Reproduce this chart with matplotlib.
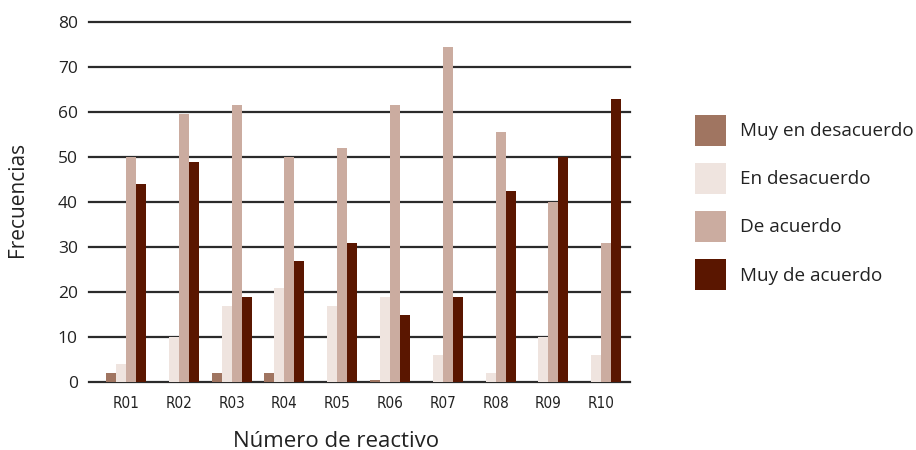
import numpy as np
import matplotlib.pyplot as plt

plt.rcParams['font.family'] = ['Open Sans', 'DejaVu Sans']

reactivos = ['R01', 'R02', 'R03', 'R04', 'R05', 'R06', 'R07', 'R08', 'R09', 'R10']
series = ['Muy en desacuerdo', 'En desacuerdo', 'De acuerdo', 'Muy de acuerdo']
muy_desacuerdo = [2, 0, 2, 2, 0, 0.5, 0, 0, 0, 0]
en_desacuerdo = [4, 10, 17, 21, 17, 19, 6, 2, 10, 6]
de_acuerdo = [50, 59.5, 61.5, 50, 52, 61.5, 74.5, 55.5, 40, 31]
muy_acuerdo = [44, 49, 19, 27, 31, 15, 19, 42.5, 50, 63]
colores = ['#a07561', '#efe4df', '#cbaca0', '#5a1600']

valores = [muy_desacuerdo, en_desacuerdo, de_acuerdo, muy_acuerdo]

fig = plt.figure(figsize=(9.16, 4.5), dpi=100)
ax = fig.add_axes([89 / 916, 1 - 382 / 450, 541 / 916, 360 / 450])

x = np.arange(len(reactivos))
w = 0.19
handles = []
for i, (vals, col) in enumerate(zip(valores, colores)):
    b = ax.bar(x + (i - 1.5) * w, vals, width=w, color=col, zorder=3)
    handles.append(b)

ax.set_ylim(0, 80)
ax.set_xlim(-0.70, 9.545)
ax.set_yticks(range(0, 81, 10))
# lineas horizontales (la de 80 queda en el borde, sin recortar)
for yv in range(0, 81, 10):
    ax.axhline(yv, color='#2b2b2b', lw=1.6, zorder=2, clip_on=False)
for s in ax.spines.values():
    s.set_visible(False)

ax.set_xticks(x)
ax.set_xticklabels(reactivos, fontsize=11, family=['DejaVu Sans'],
                   fontstretch='condensed', color='#222222')
ax.tick_params(axis='x', length=0, pad=10)
ax.tick_params(axis='y', length=0, pad=8, labelsize=12.5, labelcolor='#222222')

ax.set_ylabel('Frecuencias', fontsize=15, color='#222222', va='center')
ax.yaxis.set_label_coords(-0.133, 0.506)
ax.set_xlabel('Número de reactivo', fontsize=16, color='#222222', va='center')
ax.xaxis.set_label_coords(0.457, -0.164)

fig.legend(handles, series, loc='upper left',
           bbox_to_anchor=(695 / 916, 1 - 115 / 450),
           frameon=False, fontsize=13.6, borderpad=0, borderaxespad=0,
           handlelength=1.64, handleheight=2.15, labelspacing=0.9,
           handletextpad=0.75, labelcolor='#222222')

fig.savefig('out.png', dpi=100)
